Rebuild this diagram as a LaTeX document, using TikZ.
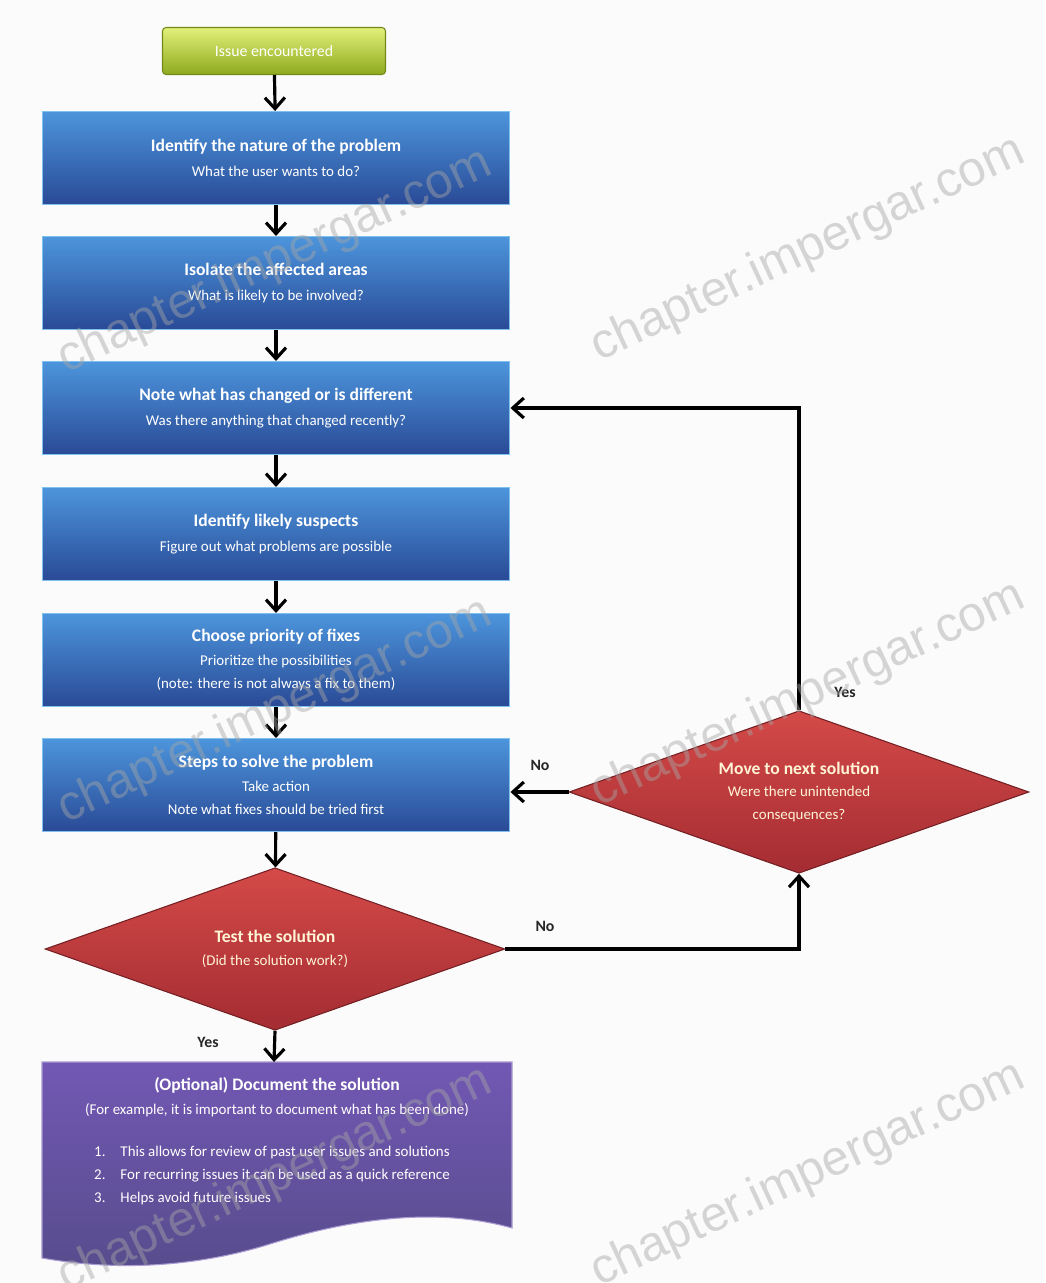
\documentclass[tikz,border=0pt]{standalone}
\usepackage{fontspec}
\setmainfont{Carlito}
\newfontfamily\wmfont{Liberation Sans}
\usetikzlibrary{shapes.geometric,arrows.meta}

\definecolor{stepTop}{HTML}{4C95DC}
\definecolor{stepMid}{HTML}{2F78BC}
\definecolor{stepBot}{HTML}{2A4A96}
\definecolor{stepEdge}{HTML}{7FC0EE}
\definecolor{decTop}{HTML}{D44A48}
\definecolor{decBot}{HTML}{A42C32}
\definecolor{goTop}{HTML}{E2F07A}
\definecolor{goBot}{HTML}{8EAA1E}
\definecolor{docTop}{HTML}{7258B4}
\definecolor{docBot}{HTML}{574C8C}
\definecolor{paleText}{HTML}{FFF4D6}

\begin{document}
\begin{tikzpicture}[x=0.02cm,y=-0.02cm,
    stepbox/.style={rectangle,minimum width=9.36cm,minimum height=1.86cm,
      top color=stepTop,middle color=stepMid,bottom color=stepBot,
      draw=stepEdge,line width=0.6pt,text=white,align=center,
      font=\fontsize{10}{13}\selectfont},
    decision/.style={diamond,aspect=2.8,minimum width=9.2cm,minimum height=3.25cm,
      inner sep=0pt,top color=decTop,bottom color=decBot,
      draw=decBot!70!black,line width=0.6pt,text=paleText,align=center,
      font=\fontsize{10}{13}\selectfont},
    startbox/.style={rectangle,rounded corners=2pt,minimum width=4.46cm,
      minimum height=0.94cm,top color=goTop,bottom color=goBot,
      draw=goBot!80!black,line width=0.6pt,text=white,
      font=\fontsize{9}{11}\selectfont},
    flow/.style={-{Straight Barb[length=2.2mm,width=4mm]},line width=1.8pt,black},
    answer/.style={font=\bfseries\fontsize{9}{11}\selectfont,text=black!85},
    watermark/.style={font=\wmfont\fontsize{28}{30}\selectfont,rotate=25,
      text=gray!70,text opacity=0.45}]

    % Border / background
    \fill[white!97!gray] (0,0) rectangle (1045,1283);
    \useasboundingbox (0,0) rectangle (1045,1283);

    % Start
    \node[startbox] (start) at (274,51) {Issue encountered};

    % Steps (column of boxes)
    \node[stepbox] (nature) at (276,158)
      {\textbf{Identify the nature of the problem}\\[1pt]
       {\fontsize{8.5}{11}\selectfont What the user wants to do?}};
    \node[stepbox] (isolate) at (276,283)
      {\textbf{Isolate the affected areas}\\[1pt]
       {\fontsize{8.5}{11}\selectfont What is likely to be involved?}};
    \node[stepbox] (changed) at (276,408)
      {\textbf{Note what has changed or is different}\\[1pt]
       {\fontsize{8.5}{11}\selectfont Was there anything that changed recently?}};
    \node[stepbox] (suspects) at (276,534)
      {\textbf{Identify likely suspects}\\[1pt]
       {\fontsize{8.5}{11}\selectfont Figure out what problems are possible}};
    \node[stepbox] (priority) at (276,660)
      {\textbf{Choose priority of fixes}\\[1pt]
       {\fontsize{8.5}{11}\selectfont Prioritize the possibilities}\\
       {\fontsize{8.5}{11}\selectfont (note: there is not always a fix to them)}};
    \node[stepbox] (steps) at (276,785)
      {\textbf{Steps to solve the problem}\\[1pt]
       {\fontsize{8.5}{11}\selectfont Take action}\\
       {\fontsize{8.5}{11}\selectfont Note what fixes should be tried first}};

    % Decisions
    \node[decision] (test) at (275,949)
      {\textbf{Test the solution}\\
       {\fontsize{8.5}{11}\selectfont (Did the solution work?)}};
    \node[decision] (next) at (799,792)
      {\textbf{Move to next solution}\\
       {\fontsize{8.5}{11}\selectfont Were there unintended}\\
       {\fontsize{8.5}{11}\selectfont consequences?}};

    % Document (wavy bottom)
    \coordinate (docIn) at (274,1062);
    \shade[top color=docTop,bottom color=docBot,draw=docTop!60!white,line width=0.6pt]
      (42,1062) -- (512,1062) -- (512,1228)
      .. controls (430,1205) and (340,1222) .. (270,1244)
      .. controls (200,1266) and (120,1272) .. (42,1258) -- cycle;
    \node[text=white,align=center,font=\fontsize{10}{13}\selectfont] (doc) at (277,1097)
      {\textbf{(Optional) Document the solution}\\[1pt]
       {\fontsize{8.5}{11}\selectfont (For example, it is important to document what has been done)}};
    \node[text=white,anchor=north west,align=left,font=\fontsize{8.5}{13}\selectfont] (docList) at (88,1140)
      {1.\quad This allows for review of past user issues and solutions\\
       2.\quad For recurring issues it can be used as a quick reference\\
       3.\quad Helps avoid future issues};

    % Connectors down the column
    \draw[flow] (start) -- (nature);
    \draw[flow] (nature) -- (isolate);
    \draw[flow] (isolate) -- (changed);
    \draw[flow] (changed) -- (suspects);
    \draw[flow] (suspects) -- (priority);
    \draw[flow] (priority) -- (steps);
    \draw[flow] (steps) -- (test);
    \draw[flow] (test.south) -- (docIn);

    % Loop back
    \draw[flow] (test.east) -| (next.south);
    \draw[flow] (next.west) -- (next.west -| steps.east);
    \draw[flow] (next.north) |- (changed.east);

    % Answers
    \node[answer] (noTest) at (545,926) {No};
    \node[answer] (noNext) at (540,765) {No};
    \node[answer] (yesNext) at (845,692) {Yes};
    \node[answer] (yesTest) at (208,1042) {Yes};

    % Watermarks
    \node[watermark] (wm1) at (808,250) {chapter.impergar.com};
    \node[watermark] (wm2) at (808,695) {chapter.impergar.com};
    \node[watermark] (wm3) at (808,1175) {chapter.impergar.com};
    \node[watermark] (wm4) at (275,262) {chapter.impergar.com};
    \node[watermark] (wm5) at (275,712) {chapter.impergar.com};
    \node[watermark] (wm6) at (275,1180) {chapter.impergar.com};
\end{tikzpicture}
\end{document}
